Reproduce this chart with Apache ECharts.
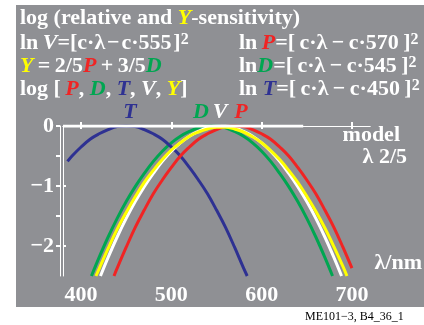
<!DOCTYPE html>
<html>
<head>
<meta charset="UTF-8">
<title>log relative and Y-sensitivity</title>
<script src="https://cdn.jsdelivr.net/npm/echarts@6/dist/echarts.min.js"></script>
<style>
  html, body { margin: 0; padding: 0; background: #fff; }
  #main { width: 424px; height: 325px; }
</style>
</head>
<body>
<div id="main"></div>
<script>
// wavelength (nm) and log10 sensitivity
const curveT = [[385,-0.59],[390,-0.50],[400,-0.35],[410,-0.22],[420,-0.13],[430,-0.06],[440,-0.01],[450,0],
  [460,-0.01],[470,-0.06],[480,-0.13],[490,-0.22],[500,-0.35],[510,-0.50],[520,-0.69],[530,-0.90],
  [540,-1.13],[550,-1.40],[560,-1.69],[570,-2.02],[580,-2.37],[584,-2.5]];
const curveD = [[411.5,-2.5],[420,-2.19],[430,-1.85],[440,-1.54],[450,-1.26],[460,-1.01],[470,-0.79],
  [480,-0.59],[490,-0.42],[500,-0.28],[510,-0.17],[520,-0.09],[530,-0.03],[540,0],[550,0],[560,-0.03],
  [570,-0.09],[580,-0.17],[590,-0.28],[600,-0.42],[610,-0.59],[620,-0.79],[630,-1.01],[640,-1.26],
  [650,-1.54],[660,-1.85],[670,-2.19],[678.5,-2.5]];
const curveV = [[421.5,-2.5],[430,-2.19],[440,-1.85],[450,-1.54],[460,-1.26],[470,-1.01],[480,-0.79],
  [490,-0.59],[500,-0.42],[510,-0.28],[520,-0.17],[530,-0.09],[540,-0.03],[550,0],[560,0],[570,-0.03],
  [580,-0.09],[590,-0.17],[600,-0.28],[610,-0.42],[620,-0.59],[630,-0.79],[640,-1.01],[650,-1.26],
  [660,-1.54],[670,-1.85],[680,-2.19],[688.5,-2.5]];
const curveP = [[436.5,-2.5],[440,-2.37],[450,-2.02],[460,-1.69],[470,-1.40],[480,-1.13],[490,-0.90],
  [500,-0.69],[510,-0.50],[520,-0.35],[530,-0.22],[540,-0.13],[550,-0.06],[560,-0.01],[570,0],
  [580,-0.01],[590,-0.06],[600,-0.13],[610,-0.22],[620,-0.35],[630,-0.50],[640,-0.69],[650,-0.90],
  [660,-1.13],[670,-1.40],[680,-1.69],[690,-2.02],[700,-2.37]];
const curveY = [[416.5,-2.5],[420,-2.38],[430,-2.04],[440,-1.72],[450,-1.44],[460,-1.18],[470,-0.94],
  [480,-0.74],[490,-0.56],[500,-0.40],[510,-0.28],[520,-0.17],[530,-0.10],[540,-0.05],[550,-0.02],
  [560,-0.02],[570,-0.05],[580,-0.10],[590,-0.18],[600,-0.28],[610,-0.41],[620,-0.56],[630,-0.74],
  [640,-0.94],[650,-1.17],[660,-1.42],[670,-1.70],[680,-2.01],[690,-2.34],[694.5,-2.5]];
const zeroLine = [[380,0],[646,0]];
const xTicks = [400, 500, 600, 700];
const yLabels = [0, -1, -2];
const yTicks = [0, -0.5, -1, -1.5, -2];

const serif = 'Liberation Serif';
const RED = '#f02424', GREEN = '#00a651', BLUE = '#2e3192', YELLOW = '#ffff00', WHITE = '#ffffff';
const th = '\u2009', hs = '\u200a', minus = '\u2212';

function tok(color, italic) {
  return { fill: color, fontFamily: serif, fontSize: 22, fontWeight: 'bold', fontStyle: italic ? 'italic' : 'normal' };
}
const rich = {
  w: tok(WHITE, false), wi: tok(WHITE, true),
  r: tok(RED, true), g: tok(GREEN, true), b: tok(BLUE, true), y: tok(YELLOW, true),
  s: { fill: WHITE, fontFamily: serif, fontSize: 16, fontWeight: 'bold', verticalAlign: 'top' }
};
function txt(x, y, text, align) {
  return { type: 'text', x: x, y: y, z: 10,
    style: { text: text, rich: rich, textAlign: align || 'left', textVerticalAlign: 'middle' } };
}
function bracket(n) {
  return '=[' + th + 'c·λ' + th + minus + th + 'c·' + n + th + ']';
}

var myChart = echarts.init(document.getElementById('main'));

function line(data, color, z) {
  return { type: 'line', data: data, smooth: 0.4, symbol: 'none', z: z,
    lineStyle: { color: color, width: 3 } };
}

option = {
  animation: false,
  grid: { left: 63, top: 126, right: 54, bottom: 49 },
  xAxis: [
    { type: 'value', min: 380, max: 720,
      axisLine: { lineStyle: { color: WHITE, width: 1 } },
      axisTick: { customValues: xTicks, inside: true, length: 4, lineStyle: { color: WHITE, width: 2 } },
      axisLabel: { customValues: xTicks, margin: 8, color: WHITE, fontFamily: serif, fontSize: 22, fontWeight: 'bold' },
      splitLine: { show: false } },
    { type: 'value', min: 380, max: 720, position: 'bottom', offset: 3,
      axisLine: { lineStyle: { color: WHITE, width: 1 } },
      axisTick: { customValues: xTicks, length: 3, lineStyle: { color: WHITE, width: 2 } },
      axisLabel: { show: false }, splitLine: { show: false } }
  ],
  yAxis: [
    { type: 'value', min: -2.5, max: 0, interval: 0.5,
      axisLine: { lineStyle: { color: WHITE, width: 1 } },
      axisTick: { customValues: yLabels, inside: true, length: 3, lineStyle: { color: WHITE, width: 2 } },
      axisLabel: { show: false }, splitLine: { show: false } },
    { type: 'value', min: -2.5, max: 0, interval: 0.5, position: 'left', offset: 3,
      axisLine: { lineStyle: { color: WHITE, width: 1 } },
      axisTick: { customValues: yTicks, length: 4, lineStyle: { color: WHITE, width: 2 } },
      axisLabel: { customValues: yLabels, margin: 6, color: WHITE, fontFamily: serif, fontSize: 22, fontWeight: 'bold',
        formatter: v => v === 0 ? '0' : minus + Math.abs(v) },
      splitLine: { show: false } }
  ],
  series: [
    line(curveD, GREEN, 2),
    line(curveT, BLUE, 3),
    line(curveV, WHITE, 4),
    line(curveP, RED, 5),
    line(curveY, YELLOW, 6),
    line(zeroLine, WHITE, 7)
  ],
  graphic: { elements: [
    { type: 'rect', z: -10, shape: { x: 16, y: 5, width: 408, height: 302 }, style: { fill: '#8f9094' } },
    txt(20, 18, '{w|log (relative and }{y|Y}{w|-sensitivity)}'),
    txt(20, 43, '{w|ln' + th + '}{wi|V}{w|=[c·λ' + hs + minus + hs + 'c·555' + hs + ']}{s|2}'),
    txt(20, 66, '{y|Y}{w|' + th + '=' + th + '2/5}{r|P}{w|' + th + '+' + th + '3/5}{g|D}'),
    txt(20, 89, '{w|log [' + th + '}{r|P}{w|, }{g|D}{w|, }{b|T}{w|, }{wi|V}{w|, }{y|Y}{w|]}'),
    txt(239, 43, '{w|ln' + th + '}{r|P}{w|' + bracket(570) + '}{s|2}'),
    txt(239, 66, '{w|ln}{g|D}{w|' + bracket(545) + '}{s|2}'),
    txt(239, 89, '{w|ln }{b|T}{w|' + bracket(450) + '}{s|2}'),
    txt(130, 112, '{b|T}', 'center'),
    txt(201, 112, '{g|D}', 'center'),
    txt(220, 112, '{wi|V}', 'center'),
    txt(241, 112, '{r|P}', 'center'),
    txt(400, 135, '{w|model}', 'right'),
    txt(407, 157, '{w|λ 2/5}', 'right'),
    txt(422, 263, '{w|λ/nm}', 'right'),
    { type: 'text', x: 305, y: 317, z: 10,
      style: { text: 'ME101' + minus + '3, B4_36_1', fill: '#000', fontFamily: serif, fontSize: 12, textVerticalAlign: 'middle' } }
  ] }
};
myChart.setOption(option);
</script>
</body>
</html>
